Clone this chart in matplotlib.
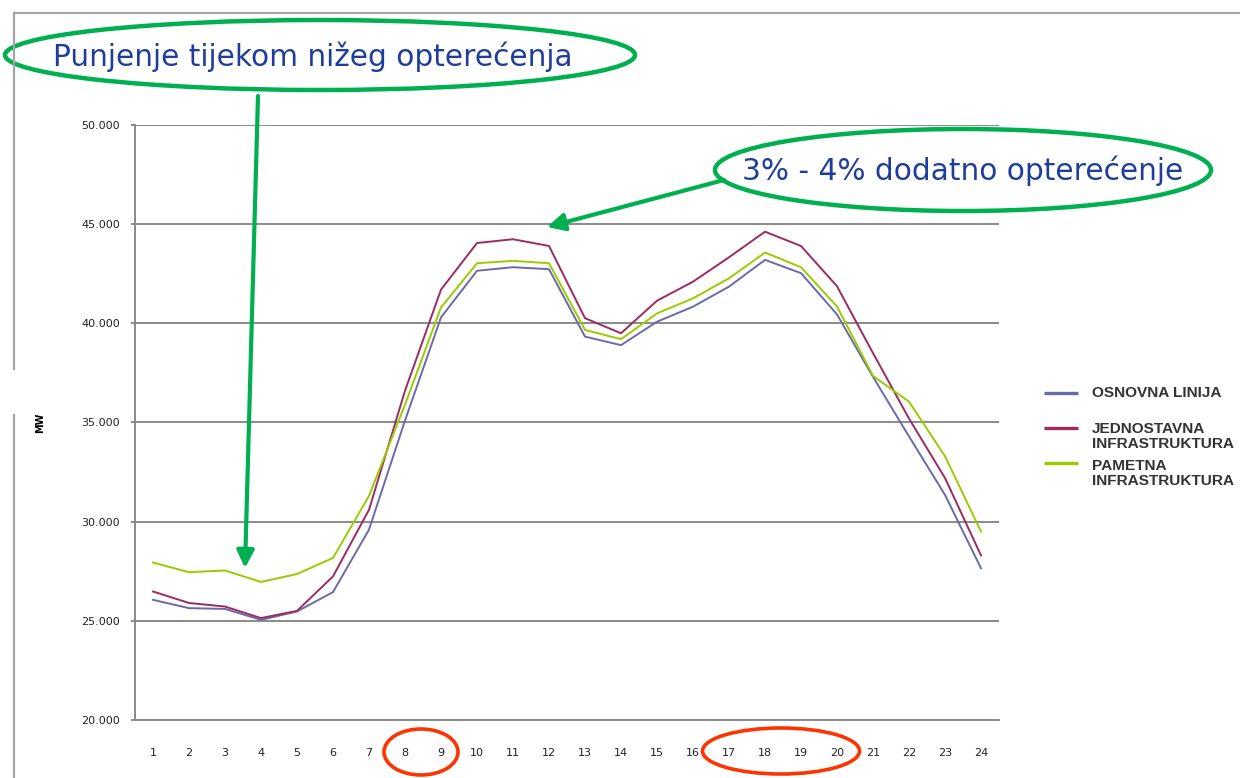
import matplotlib
matplotlib.use("Agg")
import matplotlib.pyplot as plt
from matplotlib.patches import Ellipse
from matplotlib.ticker import FuncFormatter

# hourly load (MW)
hours = list(range(1, 25))
osnovna = [26060, 25640, 25600, 25050, 25470, 26450, 29600, 35100, 40300, 42650, 42830, 42730,
           39330, 38900, 40080, 40840, 41850, 43200, 42530, 40450, 37300, 34300, 31350, 27650]
jednostavna = [26480, 25900, 25720, 25140, 25500, 27240, 30600, 36600, 41700, 44050, 44240, 43900,
               40260, 39500, 41140, 42100, 43330, 44620, 43900, 41870, 38500, 35200, 32200, 28300]
pametna = [27940, 27450, 27540, 26960, 27360, 28170, 31300, 35900, 40800, 43030, 43150, 43030,
           39670, 39200, 40500, 41260, 42270, 43570, 42830, 40850, 37350, 36050, 33300, 29500]

series_labels = ["OSNOVNA LINIJA", "JEDNOSTAVNA\nINFRASTRUKTURA", "PAMETNA\nINFRASTRUKTURA"]
series_colors = ["#6a6aaa", "#9c2b62", "#99cc00"]
note_low = "Punjenje tijekom nižeg opterećenja"
note_peak = "3% - 4% dodatno opterećenje"

W, H = 1240, 778
fig = plt.figure(figsize=(W / 100, H / 100), dpi=100)
fig.patch.set_facecolor("white")

# main chart area (pixel box 135..999 x 125..720)
ax = fig.add_axes([135 / W, 1 - 720 / H, (999 - 135) / W, (720 - 125) / H])
for vals, col in zip([osnovna, jednostavna, pametna], series_colors):
    ax.plot(hours, vals, color=col, lw=1.4, zorder=3)

ax.set_xlim(0.5, 24.5)
ax.set_ylim(20000, 50000)
ax.set_yticks(range(20000, 50001, 5000))
ax.set_xticks(hours)
ax.yaxis.set_major_formatter(FuncFormatter(lambda v, p: f"{v:,.0f}".replace(",", ".")))
grid_col = "#8a8a8a"
ax.grid(axis="y", color=grid_col, lw=1.4, zorder=1)
for s in ["top", "right"]:
    ax.spines[s].set_visible(False)
for s in ["left", "bottom"]:
    ax.spines[s].set_color(grid_col)
    ax.spines[s].set_linewidth(1.4)
ax.tick_params(axis="y", length=3, width=1.4, color=grid_col, pad=8,
               labelsize=8, labelcolor="#222222")
ax.tick_params(axis="x", length=0, pad=20, labelsize=8, labelcolor="#222222")
ax.set_ylabel("MW", fontsize=7, fontweight="bold", labelpad=26)

# overlay in pixel coordinates for frame, notes and legend
ov = fig.add_axes([0, 0, 1, 1], zorder=5)
ov.set_xlim(0, W)
ov.set_ylim(H, 0)
ov.axis("off")
ov.patch.set_alpha(0)

border = "#a5a5a5"
ov.plot([14, W], [13, 13], color=border, lw=1.6)
ov.plot([14, 14], [13, 369], color=border, lw=1.6)
ov.plot([14, 14], [415, H], color=border, lw=1.6)

green = "#00b050"
blue_txt = "#1f3d9c"
red = "#ff3300"

ov.add_patch(Ellipse((320, 55), 630, 70, fill=False, ec=green, lw=3.2))
ov.text(313, 57, note_low, fontsize=21.3, color=blue_txt, ha="center", va="center")
ov.add_patch(Ellipse((963, 170), 496, 82, fill=False, ec=green, lw=3.2))
ov.text(963, 171, note_peak, fontsize=21.3, color=blue_txt, ha="center", va="center")

arrow = dict(arrowstyle="-|>,head_length=0.8,head_width=0.4", lw=3, color=green,
             mutation_scale=13, shrinkA=0, shrinkB=0)
ov.annotate("", xy=(245, 568), xytext=(258, 96), arrowprops=arrow)
ov.annotate("", xy=(547, 227), xytext=(724, 180), arrowprops=arrow)

ov.add_patch(Ellipse((421, 752), 74, 46, fill=False, ec=red, lw=2.6))
ov.add_patch(Ellipse((781, 751), 157, 46, fill=False, ec=red, lw=2.6))

# legend
handle_y = [393, 428, 463]
text_y = [394, 430, 467]
for lab, col, hy, ty in zip(series_labels, series_colors, handle_y, text_y):
    ov.plot([1044, 1078], [hy, hy], color=col, lw=2.4, solid_capstyle="butt")
    ov.text(1092, ty - 8.5, lab, fontsize=11.1, fontweight="bold", family="Liberation Sans",
            color="#333333", ha="left", va="top", linespacing=1.12)

fig.savefig("out.png", dpi=100)
